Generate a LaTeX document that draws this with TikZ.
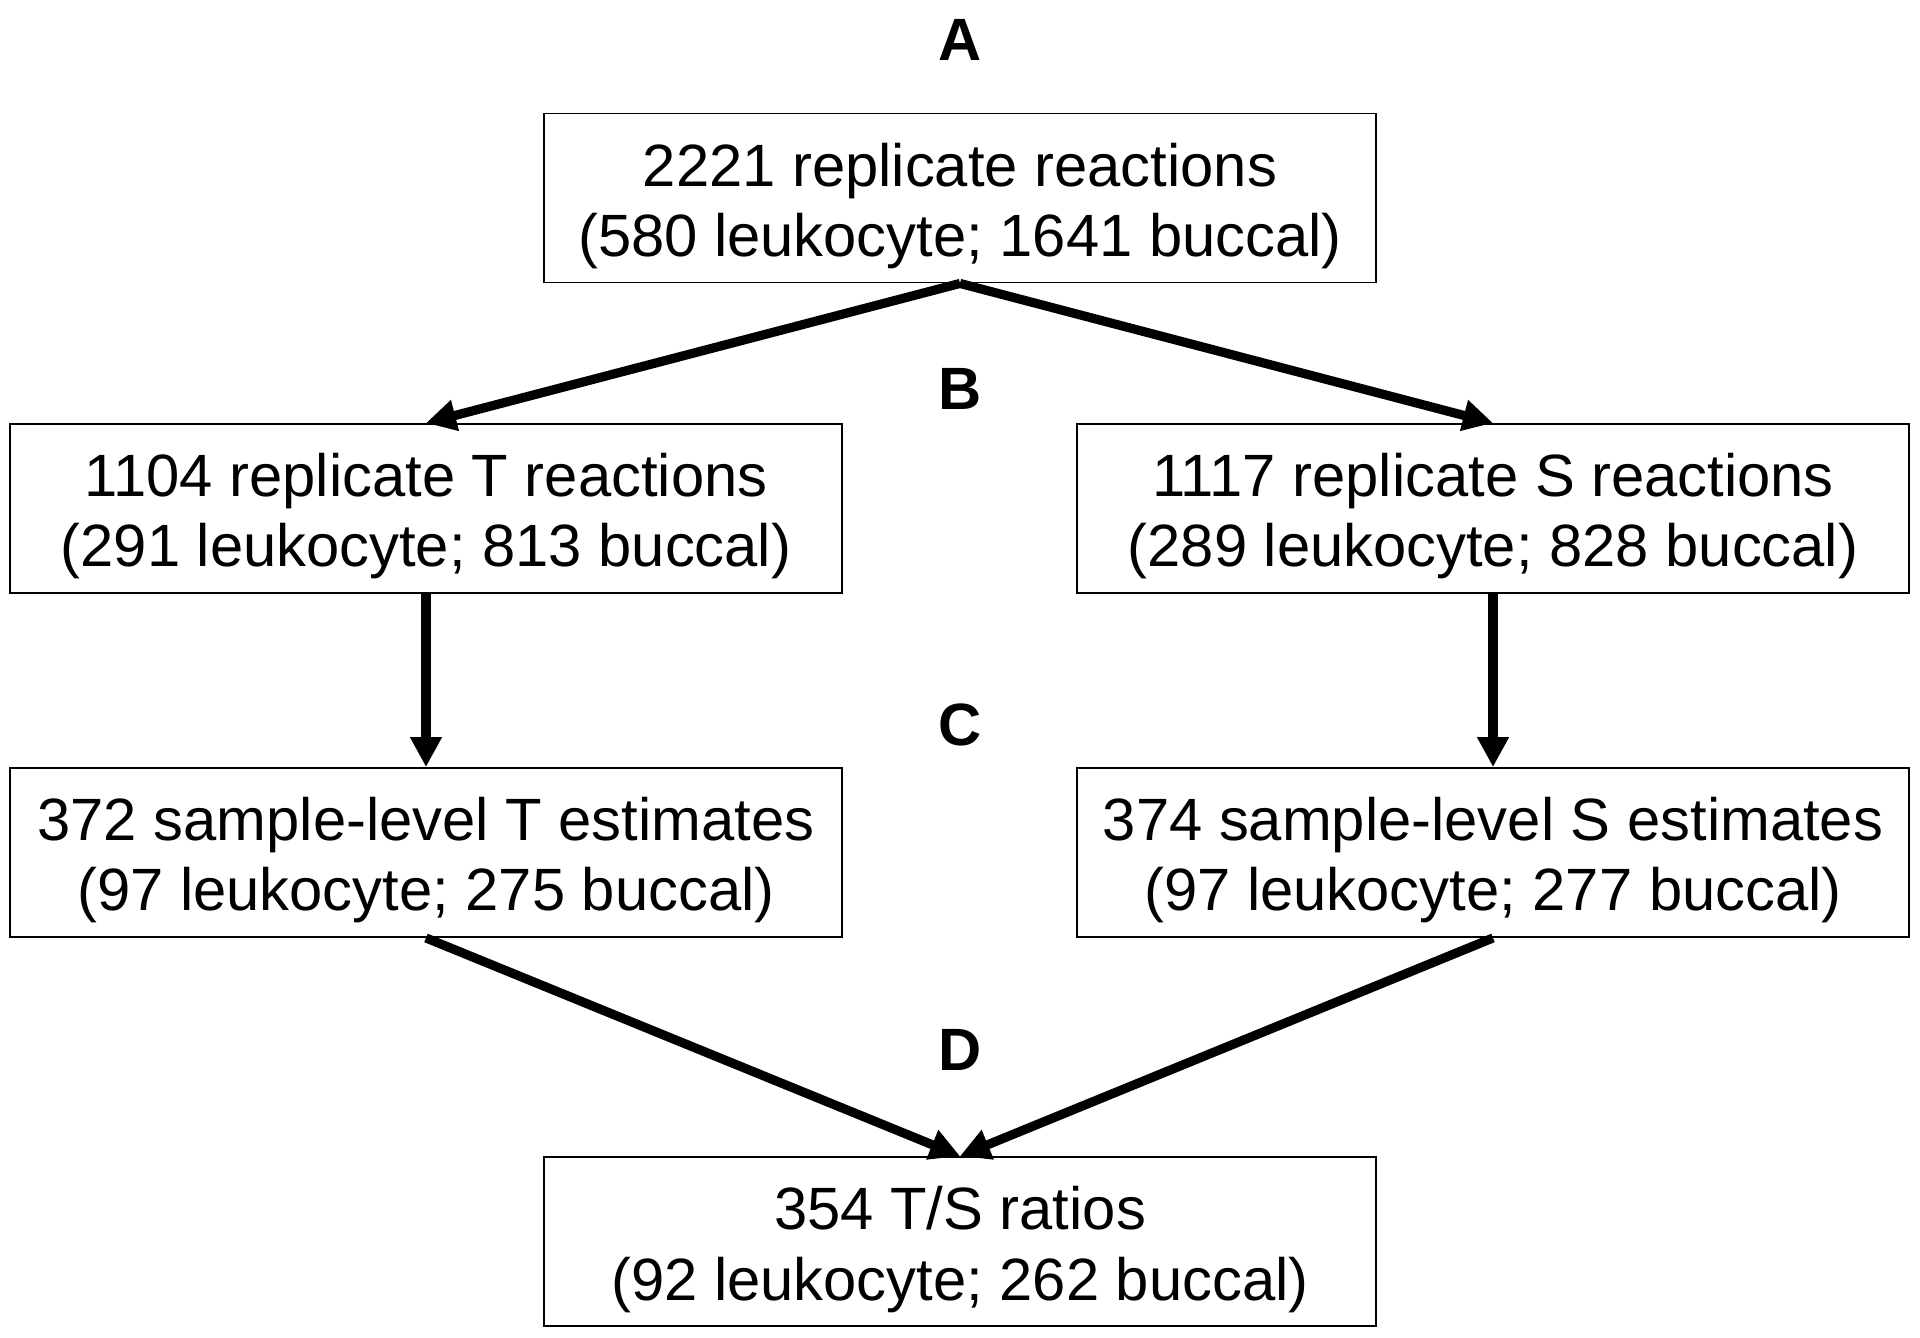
\documentclass[tikz,border=0pt]{standalone}
\usepackage{fontspec}
\setmainfont{Liberation Sans}
\usetikzlibrary{arrows.meta}

\begin{document}
\begin{tikzpicture}[x=0.02cm, y=-0.02cm,
  box/.style={draw, line width=1.1pt, minimum width=16.64cm,
    text height=2.86cm, text depth=0.52cm,
    align=center, inner sep=0pt, font=\fontsize{34}{40}\selectfont},
  steplabel/.style={font=\fontsize{34}{40}\selectfont\bfseries},
  arr/.style={line width=5.2pt, -{Triangle[length=0.6cm, width=0.6cm]}}]
\useasboundingbox (0,0) rectangle (1920,1338);
% step labels
\node [steplabel] (la) at (960,40) {A};
\node [steplabel] (lb) at (960,389) {B};
\node [steplabel] (lc) at (960,725) {C};
\node [steplabel] (ld) at (960,1050) {D};
% boxes
\node [box] (all) at (960,198) {2221 replicate reactions\\(580 leukocyte; 1641 buccal)};
\node [box] (trep) at (426,508.5) {1104 replicate T reactions\\(291 leukocyte; 813 buccal)};
\node [box] (srep) at (1493,508.5) {1117 replicate S reactions\\(289 leukocyte; 828 buccal)};
\node [box] (test) at (426,852.5) {372 sample-level T estimates\\(97 leukocyte; 275 buccal)};
\node [box] (sest) at (1493,852.5) {374 sample-level S estimates\\(97 leukocyte; 277 buccal)};
\node [box] (ratio) at (960,1241.5) {354 T/S ratios\\(92 leukocyte; 262 buccal)};
% arrows
\draw [arr] (all.south) -- (trep.north);
\draw [arr] (all.south) -- (srep.north);
\draw [arr] (trep.south) -- (test.north);
\draw [arr] (srep.south) -- (sest.north);
\draw [arr] (test.south) -- (ratio.north);
\draw [arr] (sest.south) -- (ratio.north);
\end{tikzpicture}
\end{document}
